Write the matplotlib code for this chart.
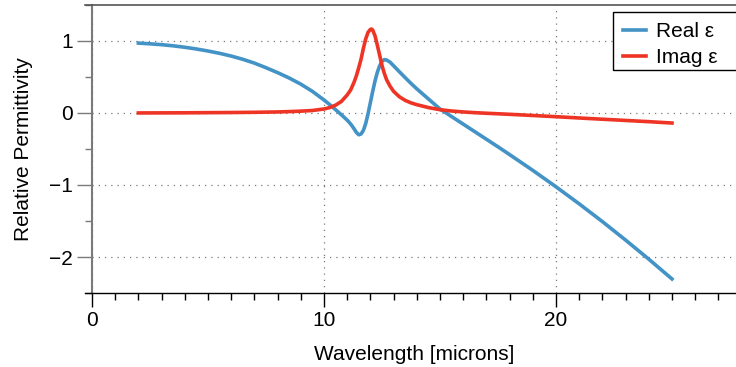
import matplotlib
matplotlib.use("Agg")
import matplotlib.pyplot as plt
from matplotlib.patches import Rectangle
from matplotlib.ticker import MultipleLocator

# --- data: relative permittivity vs wavelength (microns) ---
real_wl = [2.0, 2.5, 3.0, 3.5, 4.0, 4.5, 5.0, 5.5, 6.0, 6.5, 7.0, 7.5, 8.0,
           8.5, 9.0, 9.5, 10.0, 10.25, 10.5, 10.75, 11.0, 11.1, 11.2, 11.3,
           11.4, 11.5, 11.6, 11.7, 11.8, 11.9, 12.0, 12.1, 12.2, 12.3, 12.4,
           12.5, 12.6, 12.7, 12.85, 13.0, 13.25, 13.5, 13.75, 14.0, 14.5, 15.0,
           15.5, 16.0, 16.5, 17.0, 17.5, 18.0, 19.0, 20.0, 21.0, 22.0, 23.0,
           24.0, 25.0]
real_eps = [0.970, 0.960, 0.948, 0.932, 0.912, 0.888, 0.860, 0.828, 0.790,
            0.745, 0.692, 0.628, 0.560, 0.485, 0.400, 0.300, 0.180, 0.115,
            0.045, -0.025, -0.100, -0.135, -0.175, -0.222, -0.272, -0.303,
            -0.292, -0.240, -0.145, -0.010, 0.145, 0.300, 0.445, 0.565, 0.655,
            0.715, 0.740, 0.735, 0.705, 0.655, 0.572, 0.490, 0.410, 0.335,
            0.195, 0.055, -0.050, -0.155, -0.260, -0.365, -0.470, -0.578,
            -0.797, -1.025, -1.262, -1.508, -1.765, -2.030, -2.305]

imag_wl = [2.0, 3.0, 4.0, 5.0, 6.0, 7.0, 8.0, 8.5, 9.0, 9.5, 10.0, 10.25, 10.5,
           10.75, 11.0, 11.15, 11.3, 11.4, 11.5, 11.6, 11.7, 11.8, 11.9, 12.0,
           12.05, 12.1, 12.2, 12.3, 12.4, 12.5, 12.6, 12.7, 12.85, 13.0, 13.25,
           13.5, 13.75, 14.0, 14.5, 15.0, 15.5, 16.0, 16.5, 17.0, 18.0, 19.0,
           20.0, 21.0, 22.0, 23.0, 24.0, 25.0]
imag_eps = [0.0, 0.001, 0.002, 0.004, 0.006, 0.009, 0.014, 0.019, 0.025, 0.034,
            0.055, 0.075, 0.108, 0.160, 0.250, 0.320, 0.430, 0.520, 0.630,
            0.750, 0.900, 1.030, 1.120, 1.160, 1.165, 1.150, 1.070, 0.940,
            0.800, 0.660, 0.550, 0.460, 0.370, 0.300, 0.225, 0.175, 0.140,
            0.115, 0.075, 0.045, 0.027, 0.014, 0.004, -0.004, -0.019, -0.035,
            -0.052, -0.070, -0.087, -0.104, -0.121, -0.140]

BLUE = "#4393c6"
RED = "#ee3424"
GRAY = "#7a7a7a"

plt.rcParams["font.family"] = ["Liberation Sans", "DejaVu Sans"]
plt.rcParams["font.size"] = 15

fig = plt.figure(figsize=(7.36, 3.67), dpi=100)
ax = fig.add_axes([0.125, 0.2016, 0.875, 0.785])

ax.plot(real_wl, real_eps, color=BLUE, lw=2.6, label="Real ε", zorder=3,
        solid_joinstyle="round")
ax.plot(imag_wl, imag_eps, color=RED, lw=2.6, label="Imag ε", zorder=3,
        solid_joinstyle="round")

ax.set_xlim(0, 27.76)
ax.set_ylim(-2.5, 1.5)

ax.xaxis.set_major_locator(MultipleLocator(10))
ax.xaxis.set_minor_locator(MultipleLocator(1))
ax.yaxis.set_minor_locator(MultipleLocator(0.5))
ax.set_yticks([-2, -1, 0, 1])
ax.set_yticklabels(["\u22122", "\u22121", "0", "1"])

ax.tick_params(axis="x", which="major", direction="out", length=10, width=1,
               color="black", pad=3)
ax.tick_params(axis="x", which="minor", direction="out", length=5, width=1,
               color="black")
ax.tick_params(axis="y", which="major", direction="out", length=11, width=1,
               color=GRAY, pad=3)
ax.tick_params(axis="y", which="minor", direction="out", length=5, width=1,
               color=GRAY)

ax.grid(True, which="major", color=GRAY, lw=0.9, linestyle=(0, (1, 4)))

ax.spines["right"].set_visible(False)
ax.spines["left"].set_color(GRAY)
ax.spines["left"].set_linewidth(1.5)
ax.spines["top"].set_color("#555555")
ax.spines["top"].set_linewidth(1.2)
ax.spines["bottom"].set_color("black")
ax.spines["bottom"].set_linewidth(1.0)
ax.spines["top"].set_bounds(-0.3, 27.76)
ax.spines["bottom"].set_bounds(-0.3, 27.76)

ax.set_xlabel("Wavelength [microns]", labelpad=11)
ax.set_ylabel("Relative Permittivity", labelpad=11)

# legend box runs off the right edge of the figure
box = Rectangle((0.809, 0.774), 0.3, 0.202, transform=ax.transAxes,
                facecolor="white", edgecolor="black", lw=1.0, clip_on=False,
                zorder=4)
ax.add_patch(box)
leg = ax.legend(loc="upper left", bbox_to_anchor=(0.812, 0.969),
                frameon=False, handlelength=1.1, labelspacing=0.35,
                handletextpad=0.45, borderaxespad=0, fontsize=15)
leg.set_zorder(5)

fig.savefig("out.png", dpi=100)
